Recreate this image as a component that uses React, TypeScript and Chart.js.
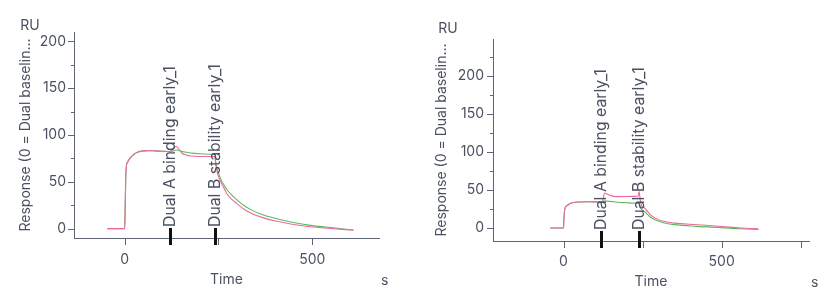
import React, { useEffect, useRef } from 'react';
import { Chart, registerables } from 'chart.js';

Chart.register(...registerables);

// ---------- data: left panel ----------
const leftTimes = [-46, -2, 0, 1, 3, 5, 8, 12, 16, 25, 34, 45, 60, 80, 100, 120, 125, 130, 137, 145, 153, 165, 176, 200, 229, 240, 243, 247, 252, 258, 265, 273, 285, 300, 317, 340, 370, 406, 450, 495, 550, 610];
const leftGreen = [0, 0, 0, 15, 55, 68, 71, 74, 76, 79.5, 81.6, 82.8, 83.3, 83, 82.6, 82.3, 82.6, 83, 84, 83.5, 82.5, 81.5, 80.8, 80, 79.5, 79.3, 70, 63, 57, 51.5, 46.5, 41.5, 36, 30.5, 25, 19.5, 14.5, 10.5, 6.5, 3.5, 1.2, -1.5];
const leftPink = [0, 0, 0, 15, 55, 68, 71, 74, 76, 79.5, 81.6, 82.8, 83.3, 83, 82.6, 82.3, 83, 85, 88, 84.5, 80.5, 78.5, 77.5, 77, 77, 77, 68, 60, 54, 48.5, 43, 37, 31.5, 26.5, 21, 16, 11.5, 7.8, 4.5, 2, 0.2, -1.8];

// ---------- data: right panel ----------
const rightTimes = [-42, -2, 0, 1, 3, 5, 10, 20, 31, 50, 80, 120, 124, 127, 130, 140, 150, 158, 175, 200, 220, 232, 236, 239, 241, 244, 248, 253, 258, 266, 274, 290, 316, 350, 421, 500, 560, 616];
const rightGreen = [0, 0, 0, 10, 22, 26.5, 29, 32, 33.5, 34.2, 34.4, 34.3, 34.8, 35.3, 35.5, 35.2, 34.8, 34.5, 33.8, 33.2, 32.7, 32.3, 32.2, 32.1, 30, 26.5, 24, 22.5, 21, 17.5, 14.5, 11, 7, 4.5, 2.2, 0.5, -1, -1.7];
const rightPink = [0, 0, 0, 10, 22, 26.5, 29, 32, 33.5, 34.2, 34.4, 34.3, 35, 42, 46, 44, 42.5, 41.5, 41.2, 41.3, 41.5, 41.7, 41.8, 48, 42, 33, 28.5, 27, 25.6, 21.5, 17.7, 13, 8.8, 6.5, 4.4, 2, 0, -0.9];

// markers (event times, s) and their labels
const markerTimes = [120, 240];
const markerLabels = ['Dual A binding early_1', 'Dual B stability early_1'];

// tick labels
const leftYTicks = [0, 50, 100, 150, 200];
const rightYTicks = [0, 50, 100, 150, 200];
const xTickLabels = [0, 500];

// axis texts
const yTitle = 'Response (0 = Dual baselin...';
const xTitle = 'Time';
const yUnit = 'RU';
const xUnit = 's';

// ---------- styles ----------
const FONT = 'Inter';
const TEXT = '#4a5160';
const AXIS = '#5f6570';
const GREEN = '#5cba5c';
const PINK = '#ee6a9c';

interface Panel {
  width: number;
  left: number;
  times: number[];
  green: number[];
  pink: number[];
  yTicks: number[];
  xMin: number; xMax: number; yMin: number; yMax: number;
  padTop: number; padRight: number; yWidth: number; xHeight: number;
  yTitlePad: number; xTitlePad: number; yTickPad: number; xTickPad: number;
  ruY: number; ruDx: number; sBase: number;
}

const panels: Panel[] = [
  {
    width: 420, left: 0,
    times: leftTimes, green: leftGreen, pink: leftPink, yTicks: leftYTicks,
    xMin: -135, xMax: 678, yMin: -10, yMax: 210,
    padTop: 32, padRight: 41, yWidth: 74, xHeight: 68,
    yTitlePad: 17.6, xTitlePad: 17.6, yTickPad: 8, xTickPad: 13,
    ruY: 26, ruDx: -44, sBase: 285,
  },
  {
    width: 417, left: 420,
    times: rightTimes, green: rightGreen, pink: rightPink, yTicks: rightYTicks,
    xMin: -223, xMax: 776, yMin: -17, yMax: 248,
    padTop: 39, padRight: 28, yWidth: 73, xHeight: 65,
    yTitlePad: 13.3, xTitlePad: 16, yTickPad: 9, xTickPad: 12.5,
    ruY: 29, ruDx: -45, sBase: 287,
  },
];

const decorPlugin = {
  id: 'decor',
  afterDraw(chart: any, _args: any, opts: any) {
    const { ctx, chartArea: a, scales } = chart;
    const xs = scales.x;
    const ys = scales.y;
    ctx.save();
    ctx.strokeStyle = AXIS;
    ctx.lineWidth = 1;
    for (let v = Math.ceil(ys.min / 25) * 25; v <= ys.max; v += 25) {
      const py = Math.round(ys.getPixelForValue(v)) + 0.5;
      const len = v % 50 === 0 ? 6 : 3;
      ctx.beginPath();
      ctx.moveTo(a.left - len, py);
      ctx.lineTo(a.left, py);
      ctx.stroke();
    }
    for (let v = Math.ceil(xs.min / 250) * 250; v <= xs.max; v += 250) {
      const px = Math.round(xs.getPixelForValue(v)) + 0.5;
      ctx.beginPath();
      ctx.moveTo(px, a.bottom);
      ctx.lineTo(px, a.bottom + 7);
      ctx.stroke();
    }
    markerTimes.forEach((t, i) => {
      const px = xs.getPixelForValue(t);
      ctx.fillStyle = '#111111';
      ctx.fillRect(Math.round(px) - 1, a.bottom - 10, 3, 17);
      ctx.save();
      ctx.translate(Math.round(px) + 0.5, a.bottom - 11);
      ctx.rotate(-Math.PI / 2);
      ctx.font = `15.8px ${FONT}`;
      ctx.fillStyle = TEXT;
      ctx.textAlign = 'left';
      ctx.textBaseline = 'middle';
      ctx.fillText(markerLabels[i], 0, 0);
      ctx.restore();
    });
    ctx.font = `14px ${FONT}`;
    ctx.fillStyle = TEXT;
    ctx.textAlign = 'center';
    ctx.textBaseline = 'middle';
    ctx.fillText(yUnit, a.left + opts.ruDx, opts.ruY);
    ctx.textAlign = 'left';
    ctx.textBaseline = 'alphabetic';
    ctx.fillText(xUnit, a.right + 2, opts.sBase);
    ctx.restore();
  },
};

function ChartPanel({ p }: { p: Panel }) {
  const ref = useRef<HTMLCanvasElement | null>(null);
  useEffect(() => {
    if (!ref.current) return;
    const font = { family: FONT, size: 14 };
    const chart = new Chart(ref.current, {
      type: 'line',
      data: {
        datasets: [
          {
            label: 'pink',
            data: p.times.map((t, i) => ({ x: t, y: p.pink[i] })),
            borderColor: PINK,
            borderWidth: 1.1,
            pointRadius: 0,
            cubicInterpolationMode: 'monotone',
            fill: false,
          },
          {
            label: 'green',
            data: p.times.map((t, i) => ({ x: t, y: p.green[i] })),
            borderColor: GREEN,
            borderWidth: 1.1,
            pointRadius: 0,
            cubicInterpolationMode: 'monotone',
            fill: false,
          },
        ],
      },
      options: {
        animation: false,
        responsive: false,
        maintainAspectRatio: false,
        layout: { padding: { top: p.padTop, right: p.padRight, left: 0, bottom: 0 } },
        plugins: {
          legend: { display: false },
          tooltip: { enabled: false },
          decor: { ruY: p.ruY, ruDx: p.ruDx, sBase: p.sBase },
        } as any,
        scales: {
          x: {
            type: 'linear',
            min: p.xMin,
            max: p.xMax,
            afterBuildTicks: (s: any) => { s.ticks = xTickLabels.map((v) => ({ value: v })); },
            afterFit: (s: any) => { s.height = p.xHeight; },
            grid: { display: false, drawTicks: false },
            border: { display: true, color: AXIS, width: 1 },
            ticks: {
              autoSkip: false,
              maxRotation: 0,
              padding: p.xTickPad,
              color: TEXT,
              font,
              callback: (v: any) => String(v),
            },
            title: { display: true, text: xTitle, color: TEXT, font, padding: { top: 0, bottom: p.xTitlePad } },
          },
          y: {
            type: 'linear',
            min: p.yMin,
            max: p.yMax,
            afterBuildTicks: (s: any) => { s.ticks = p.yTicks.map((v) => ({ value: v })); },
            afterFit: (s: any) => { s.width = p.yWidth; },
            grid: { display: false, drawTicks: false },
            border: { display: true, color: AXIS, width: 1 },
            ticks: {
              autoSkip: false,
              padding: p.yTickPad,
              color: TEXT,
              font,
              callback: (v: any) => String(v),
            },
            title: { display: true, text: yTitle, color: TEXT, font, padding: { top: p.yTitlePad, bottom: 0 } },
          },
        },
      } as any,
      plugins: [decorPlugin],
    });
    return () => chart.destroy();
  }, [p]);
  return (
    <canvas
      ref={ref}
      width={p.width}
      height={306}
      style={{ position: 'absolute', left: p.left, top: 0, width: p.width, height: 306, display: 'block' }}
    />
  );
}

export default function App() {
  return (
    <div style={{ position: 'absolute', left: 0, top: 0, width: 837, height: 306, background: '#ffffff' }}>
      {panels.map((p, i) => (
        <ChartPanel key={i} p={p} />
      ))}
    </div>
  );
}
